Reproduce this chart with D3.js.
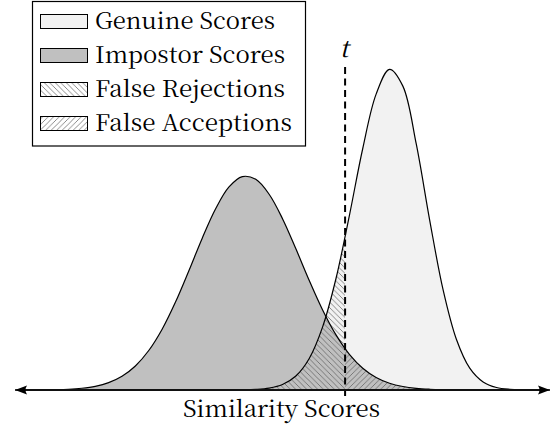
<!DOCTYPE html>
<html>
<head>
<meta charset="utf-8">
<script src="https://cdn.jsdelivr.net/npm/d3@7"></script>
<style>
  html, body { margin: 0; padding: 0; background: #fff; }
  svg { display: block; }
</style>
</head>
<body>
<svg id="chart" width="559" height="430"></svg>
<script>
// ---------------- data ----------------
const scores = [0,2.5,5,7.5,10,12.5,15,17.5,20,22.5,25,27.5,30,32.5,35,37.5,40,42.5,45,47.5,50,52.5,55,57.5,60,62.5,65,67.5,70,72.5,75,77.5,80,82.5,85,87.5,90,92.5,95,97.5,100];
const genuine = [0,0,0,0,0,0,0,0,0,0,0,0,0,0,0,0,0.00001,0.00003,0.00011,0.00035,0.00100,0.00255,0.00574,0.01148,0.02027,0.03172,0.04391,0.05379,0.05831,0.05525,0.04473,0.03095,0.01829,0.00923,0.00398,0.00147,0.00046,0.00012,0.00003,0.00001,0];
const impostor = [0,0.00001,0.00002,0.00006,0.00014,0.00032,0.00067,0.00134,0.00250,0.00437,0.00718,0.01106,0.01599,0.02169,0.02761,0.03295,0.03692,0.03880,0.03830,0.03559,0.03115,0.02567,0.01992,0.01456,0.01002,0.00649,0.00396,0.00228,0.00123,0.00063,0.00030,0.00014,0.00006,0.00002,0.00001,0,0,0,0,0,0];
const threshold = 61.7;
const thresholdLabel = "t";
const axisLabel = "Similarity Scores";
const legendLabels = ["Genuine Scores", "Impostor Scores", "False Rejections", "False Acceptions"];

// ---------------- drawing ----------------
const FONT = "'Noto Serif CJK SC', 'Liberation Serif', serif";
const svg = d3.select("#chart");
const x = d3.scaleLinear().domain([0, 100]).range([15, 550]);
const y = d3.scaleLinear().domain([0, 0.06]).range([390, 60]);

const genPts = scores.map((s, i) => [s, genuine[i]]);
const impPts = scores.map((s, i) => [s, impostor[i]]);

const area = d3.area().x(d => x(d[0])).y0(y(0)).y1(d => Math.min(y(0), y(d[1]))).curve(d3.curveCatmullRom.alpha(0.5));
const line = d3.line().x(d => x(d[0])).y(d => Math.min(y(0), y(d[1]))).curve(d3.curveCatmullRom.alpha(0.5));

const defs = svg.append("defs");
function hatch(id, dir, stroke) {
  const s = 5.5;
  const p = defs.append("pattern").attr("id", id).attr("patternUnits", "userSpaceOnUse")
    .attr("width", s).attr("height", s);
  const d = dir === "nw"
    ? `M0,0 L${s},${s} M-1,${s - 1} L1,${s + 1} M${s - 1},-1 L${s + 1},1`
    : `M0,${s} L${s},0 M-1,1 L1,-1 M${s - 1},${s + 1} L${s + 1},${s - 1}`;
  p.append("path").attr("d", d).attr("stroke", stroke).attr("stroke-width", 0.7).attr("fill", "none");
}
hatch("hatchNW", "nw", "#5a5a5a");
hatch("hatchNE", "ne", "#5a5a5a");

defs.append("clipPath").attr("id", "leftOfT").append("rect")
  .attr("x", 0).attr("y", 0).attr("width", x(threshold)).attr("height", 430);
defs.append("clipPath").attr("id", "rightOfT").append("rect")
  .attr("x", x(threshold)).attr("y", 0).attr("width", 559 - x(threshold)).attr("height", 430);

// fills
svg.append("path").datum(genPts).attr("d", area).attr("fill", "#f2f2f2");
svg.append("path").datum(impPts).attr("d", area).attr("fill", "#c0c0c0");
// hatched error regions
svg.append("path").datum(genPts).attr("d", area).attr("fill", "url(#hatchNW)").attr("clip-path", "url(#leftOfT)");
svg.append("path").datum(impPts).attr("d", area).attr("fill", "url(#hatchNE)").attr("clip-path", "url(#rightOfT)");
// outlines
svg.append("path").datum(genPts).attr("d", line).attr("fill", "none").attr("stroke", "#000").attr("stroke-width", 1.2);
svg.append("path").datum(impPts).attr("d", line).attr("fill", "none").attr("stroke", "#000").attr("stroke-width", 1.2);

// threshold
svg.append("line").attr("x1", x(threshold)).attr("x2", x(threshold))
  .attr("y1", 67).attr("y2", 397)
  .attr("stroke", "#000").attr("stroke-width", 2).attr("stroke-dasharray", "7,4.5");
svg.append("text").attr("x", x(threshold) - 1).attr("y", 57).attr("text-anchor", "middle")
  .attr("font-family", FONT).attr("font-style", "italic").attr("font-size", 24).text(thresholdLabel);

// axis with arrows at both ends
const [xa, xb] = x.range();
svg.append("line").attr("x1", xa + 6).attr("x2", xb - 6).attr("y1", y(0)).attr("y2", y(0))
  .attr("stroke", "#111").attr("stroke-width", 2);
svg.append("path").attr("d", `M${xa},${y(0)} L${xa + 12},${y(0) - 4.5} Q${xa + 9},${y(0)} ${xa + 12},${y(0) + 4.5} Z`).attr("fill", "#000");
svg.append("path").attr("d", `M${xb},${y(0)} L${xb - 12},${y(0) - 4.5} Q${xb - 9},${y(0)} ${xb - 12},${y(0) + 4.5} Z`).attr("fill", "#000");
svg.append("text").attr("x", 281.5).attr("y", 417).attr("text-anchor", "middle")
  .attr("font-family", FONT).attr("font-size", 23)
  .attr("textLength", 197).attr("lengthAdjust", "spacingAndGlyphs").text(axisLabel);

// legend
const lg = svg.append("g");
lg.append("rect").attr("x", 32.5).attr("y", 1.5).attr("width", 273).attr("height", 144.5)
  .attr("fill", "#fff").attr("stroke", "#000").attr("stroke-width", 1.2);
const swFills = ["#f2f2f2", "#c0c0c0", "url(#hatchNW)", "url(#hatchNE)"];
const textLens = [180, 190, 190, 197];
legendLabels.forEach((lab, i) => {
  const base = 29 + i * 34;
  lg.append("rect").attr("x", 40.5).attr("y", base - 14.5).attr("width", 47).attr("height", 14)
    .attr("fill", swFills[i]).attr("stroke", "#000").attr("stroke-width", 1);
  lg.append("text").attr("x", 95).attr("y", base)
    .attr("font-family", FONT).attr("font-size", 23)
    .attr("textLength", textLens[i]).attr("lengthAdjust", "spacingAndGlyphs").text(lab);
});
</script>
</body>
</html>
